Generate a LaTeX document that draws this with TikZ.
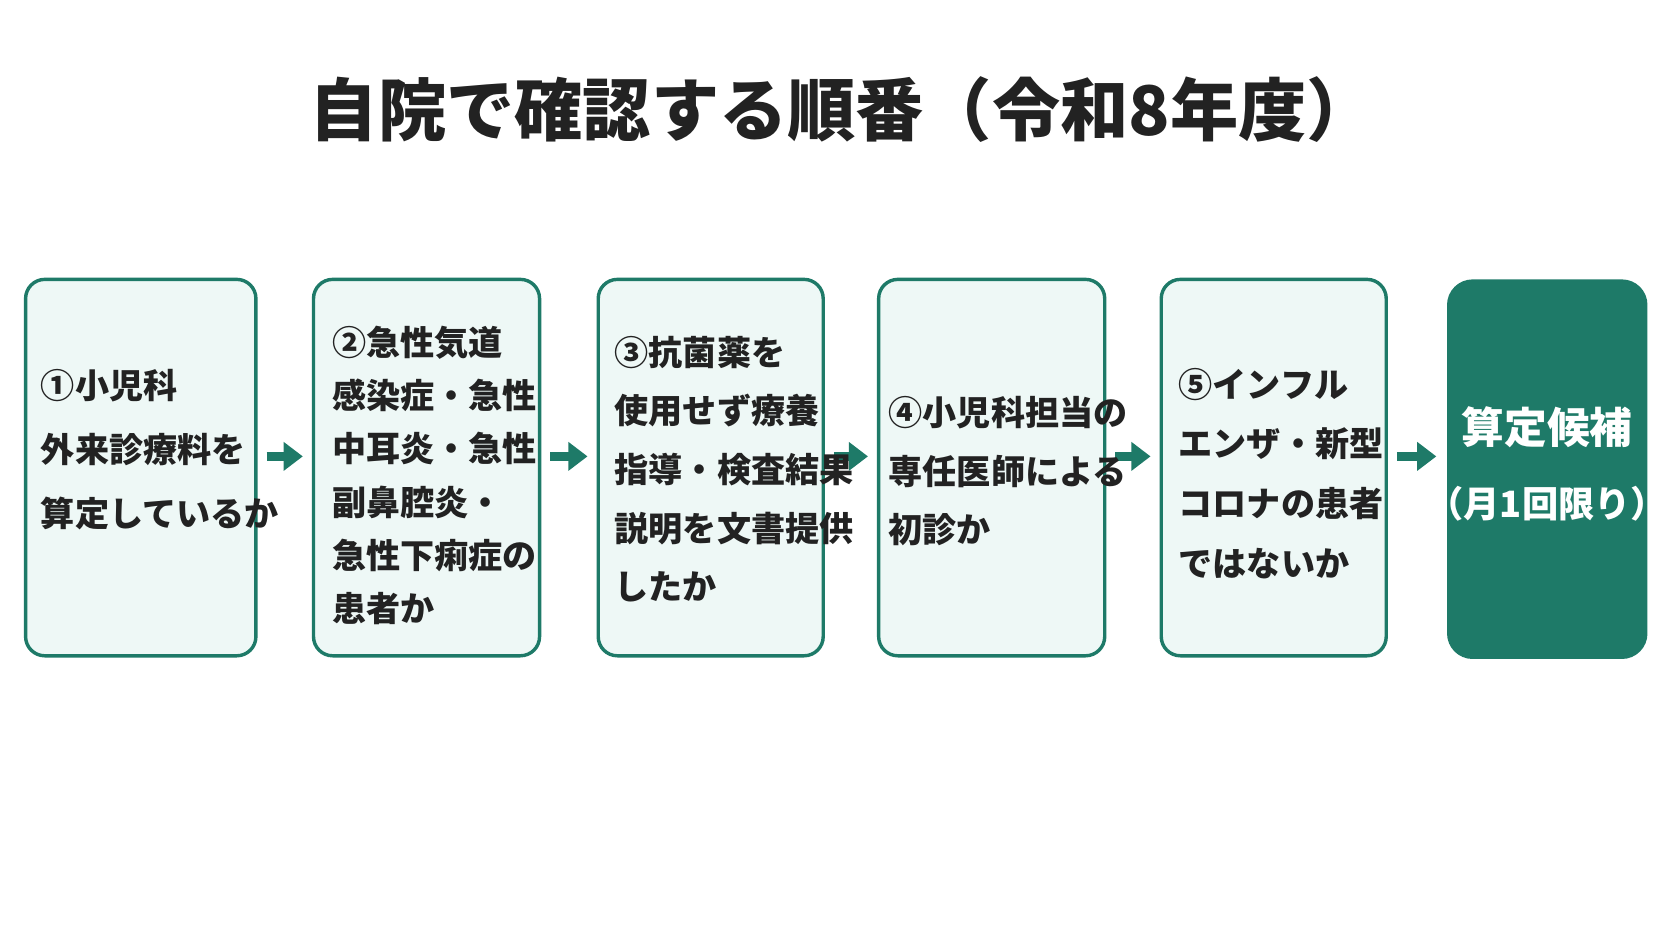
\documentclass[tikz,border=0pt]{standalone}
\usepackage{fontspec}
\setmainfont{Noto Sans CJK JP}
\usetikzlibrary{arrows.meta}
\definecolor{tg}{HTML}{1E7A68}
\definecolor{tf}{HTML}{EEF8F6}
\definecolor{tx}{HTML}{222222}
\begin{document}
\begin{tikzpicture}[x=0.5pt,y=-0.5pt,
 box/.style={draw=tg,line width=1.6pt,fill=tf,rounded corners=9pt,minimum width=#1},
 txt/.style={anchor=west,align=left,text=tx,font=\fontsize{16}{#1}\selectfont\bfseries,inner sep=0pt},
 arr/.style={draw=tg,line width=4.5pt,-{Triangle[length=9pt,width=13pt]},shorten <=5pt,shorten >=5pt}]
\useasboundingbox (0,0) rectangle (1568,882);
\node[text=tx,font=\fontsize{32}{36}\selectfont\bfseries] (title) at (790,103) {自院で確認する順番（令和8年度）};
\def\bx#1#2#3{\path[box=1pt] (#2,262) rectangle (#3,615); \coordinate (#1) at ({(#2+#3)/2},438);}
\path[draw=tg,line width=1.6pt,fill=tf,rounded corners=9pt] (24,262) rectangle (240,615);
\path[draw=tg,line width=1.6pt,fill=tf,rounded corners=9pt] (294,262) rectangle (506,615);
\path[draw=tg,line width=1.6pt,fill=tf,rounded corners=9pt] (561,262) rectangle (772,615);
\path[draw=tg,line width=1.6pt,fill=tf,rounded corners=9pt] (824,262) rectangle (1036,615);
\path[draw=tg,line width=1.6pt,fill=tf,rounded corners=9pt] (1089,262) rectangle (1300,615);
\path[fill=tg,rounded corners=12pt] (1357,262) rectangle (1545,618);
\coordinate (r1) at (240,428); \coordinate (l2) at (294,428);
\coordinate (r2) at (506,428); \coordinate (l3) at (561,428);
\coordinate (r3) at (772,428); \coordinate (l4) at (824,428);
\coordinate (r4) at (1036,428); \coordinate (l5) at (1089,428);
\coordinate (r5) at (1300,428); \coordinate (l6) at (1357,428);
\draw[arr] (r1)--(l2); \draw[arr] (r2)--(l3); \draw[arr] (r3)--(l4);
\draw[arr] (r4)--(l5); \draw[arr] (r5)--(l6);
\node[txt=30] (t1) at (38,422) {①小児科\\外来診療料を\\算定しているか};
\node[txt=25] (t2) at (311,446) {②急性気道\\感染症・急性\\中耳炎・急性\\副鼻腔炎・\\急性下痢症の\\患者か};
\node[txt=27.5] (t3) at (576,440) {③抗菌薬を\\使用せず療養\\指導・検査結果\\説明を文書提供\\したか};
\node[txt=27.5] (t4) at (833,442) {④小児科担当の\\専任医師による\\初診か};
\node[txt=28] (t5) at (1105,444) {⑤インフル\\エンザ・新型\\コロナの患者\\ではないか};
\node[align=center,text=white,font=\fontsize{20}{35}\selectfont\bfseries] (t6) at (1451,435) {算定候補\\\fontsize{17}{20}\selectfont（月1回限り）};
\end{tikzpicture}
\end{document}
